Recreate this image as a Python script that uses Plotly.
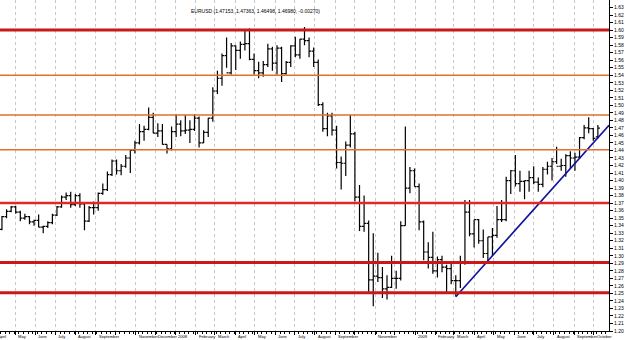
import pandas as pd
import plotly.graph_objects as go

# ---------------- data (weekly bars) ----------------
opens = [
    1.3350, 1.3520, 1.3590, 1.3650, 1.3580, 1.3500, 1.3520, 1.3450, 1.3470, 1.3380,
    1.3390, 1.3440, 1.3540, 1.3650, 1.3780, 1.3800, 1.3680, 1.3800, 1.3690, 1.3460,
    1.3640, 1.3640, 1.3830, 1.3880, 1.4080, 1.4260, 1.4130, 1.4190, 1.4300, 1.4400,
    1.4500, 1.4650, 1.4680, 1.4840, 1.4630, 1.4660, 1.4480, 1.4420, 1.4650,
    1.4750, 1.4660, 1.4670, 1.4680, 1.4830, 1.4500, 1.4640, 1.4830, 1.5190, 1.5360,
    1.5660, 1.5430, 1.5790, 1.5730, 1.5810, 1.5820, 1.5610, 1.5460, 1.5430, 1.5540,
    1.5750, 1.5560, 1.5760, 1.5420, 1.5570, 1.5790, 1.5670, 1.5880, 1.5860, 1.5720,
    1.5570, 1.5010, 1.4690, 1.4860, 1.4670, 1.4240, 1.4230, 1.4470, 1.4620, 1.3780,
    1.3390, 1.3430, 1.2680, 1.2730, 1.2710, 1.2560, 1.2580, 1.2700, 1.2700, 1.3400,
    1.3900, 1.4130,
    1.3920, 1.3450, 1.3050, 1.2980, 1.2800, 1.2950, 1.2850, 1.2830, 1.2670, 1.2670,
    1.2920, 1.3580, 1.3290, 1.3480, 1.3200, 1.3030, 1.3250, 1.3270, 1.3480, 1.3480,
    1.4000, 1.4130, 1.3960, 1.3990, 1.4000, 1.4040, 1.3980, 1.3950, 1.4150, 1.4190,
    1.4250, 1.4190, 1.4200, 1.4330, 1.4300, 1.4310, 1.4570, 1.4700, 1.4690, 1.4580,
]
highs = [
    1.3530, 1.3620, 1.3660, 1.3660, 1.3600, 1.3560, 1.3530, 1.3480, 1.3550, 1.3400,
    1.3460, 1.3560, 1.3660, 1.3800, 1.3840, 1.3850, 1.3820, 1.3830, 1.3700, 1.3660,
    1.3720, 1.3840, 1.3960, 1.4120, 1.4280, 1.4280, 1.4220, 1.4340, 1.4420, 1.4530,
    1.4750, 1.4730, 1.4970, 1.4900, 1.4760, 1.4750, 1.4480, 1.4720, 1.4880,
    1.4800, 1.4870, 1.4800, 1.4880, 1.4850, 1.4670, 1.4830, 1.5240, 1.5460, 1.5690,
    1.5900, 1.5830, 1.5800, 1.5850, 1.5990, 1.6020, 1.5690, 1.5580, 1.5590, 1.5820,
    1.5780, 1.5800, 1.5780, 1.5590, 1.5800, 1.5910, 1.5880, 1.6040, 1.5900, 1.5770,
    1.5610, 1.5040, 1.4900, 1.4900, 1.4730, 1.4320, 1.4520, 1.4870, 1.4650, 1.3940,
    1.3800, 1.3470, 1.3300, 1.3040, 1.2850, 1.2740, 1.3000, 1.2800, 1.3460, 1.4720,
    1.4180, 1.4160,
    1.3960, 1.3470, 1.3180, 1.3320, 1.2990, 1.3000, 1.2880, 1.2900, 1.2740, 1.3000,
    1.3740, 1.3740, 1.3480, 1.3490, 1.3350, 1.3250, 1.3370, 1.3660, 1.3740, 1.4050,
    1.4140, 1.4340, 1.4130, 1.4000, 1.4130, 1.4190, 1.4040, 1.4180, 1.4250, 1.4300,
    1.4450, 1.4290, 1.4350, 1.4390, 1.4370, 1.4580, 1.4740, 1.4840, 1.4700, 1.4740,
]
lows = [
    1.3340, 1.3500, 1.3580, 1.3560, 1.3460, 1.3480, 1.3420, 1.3400, 1.3380, 1.3300,
    1.3370, 1.3420, 1.3530, 1.3640, 1.3740, 1.3640, 1.3660, 1.3640, 1.3340, 1.3450,
    1.3550, 1.3600, 1.3810, 1.3860, 1.4060, 1.4080, 1.4070, 1.4170, 1.4100, 1.4360,
    1.4480, 1.4530, 1.4670, 1.4630, 1.4580, 1.4480, 1.4360, 1.4400, 1.4580,
    1.4590, 1.4620, 1.4500, 1.4660, 1.4440, 1.4500, 1.4580, 1.4780, 1.5150, 1.5260,
    1.5500, 1.5410, 1.5470, 1.5620, 1.5730, 1.5600, 1.5410, 1.5360, 1.5380, 1.5510,
    1.5460, 1.5410, 1.5310, 1.5410, 1.5510, 1.5640, 1.5620, 1.5800, 1.5640, 1.5510,
    1.4990, 1.4650, 1.4590, 1.4600, 1.4160, 1.3880, 1.4060, 1.4440, 1.3720, 1.3330,
    1.3320, 1.2500, 1.2330, 1.2650, 1.2440, 1.2420, 1.2570, 1.2560, 1.2670, 1.3400,
    1.3830, 1.3920,
    1.3340, 1.2940, 1.2830, 1.2760, 1.2710, 1.2780, 1.2510, 1.2620, 1.2460, 1.2570,
    1.2880, 1.3260, 1.3110, 1.3160, 1.2970, 1.2890, 1.3000, 1.3240, 1.3450, 1.3460,
    1.3820, 1.3920, 1.3850, 1.3750, 1.3850, 1.3950, 1.3850, 1.3910, 1.4080, 1.4000,
    1.4220, 1.4130, 1.4050, 1.4160, 1.4130, 1.4290, 1.4550, 1.4630, 1.4530, 1.4560,
]
closes = [
    1.3520, 1.3590, 1.3650, 1.3580, 1.3500, 1.3520, 1.3450, 1.3470, 1.3380, 1.3390,
    1.3440, 1.3540, 1.3650, 1.3780, 1.3800, 1.3680, 1.3800, 1.3690, 1.3460, 1.3640,
    1.3640, 1.3830, 1.3880, 1.4080, 1.4260, 1.4130, 1.4190, 1.4300, 1.4400, 1.4500,
    1.4650, 1.4680, 1.4840, 1.4630, 1.4660, 1.4480, 1.4420, 1.4650, 1.4750,
    1.4660, 1.4670, 1.4680, 1.4830, 1.4500, 1.4640, 1.4830, 1.5190, 1.5360, 1.5660,
    1.5430, 1.5790, 1.5730, 1.5810, 1.5820, 1.5610, 1.5460, 1.5430, 1.5540, 1.5750,
    1.5560, 1.5760, 1.5420, 1.5570, 1.5790, 1.5670, 1.5880, 1.5860, 1.5720, 1.5570,
    1.5010, 1.4690, 1.4860, 1.4670, 1.4240, 1.4230, 1.4470, 1.4620, 1.3780, 1.3390,
    1.3430, 1.2680, 1.2730, 1.2710, 1.2560, 1.2580, 1.2700, 1.2700, 1.3400, 1.3900,
    1.4130, 1.3920,
    1.3450, 1.3050, 1.2980, 1.2800, 1.2950, 1.2850, 1.2830, 1.2670, 1.2670, 1.2920,
    1.3580, 1.3290, 1.3480, 1.3200, 1.3030, 1.3250, 1.3270, 1.3480, 1.3480, 1.4000,
    1.4130, 1.3960, 1.3990, 1.4000, 1.4040, 1.3980, 1.3950, 1.4150, 1.4190, 1.4250,
    1.4190, 1.4200, 1.4330, 1.4300, 1.4310, 1.4570, 1.4700, 1.4690, 1.4560, 1.4698,
]
week_dates = pd.date_range("2007-04-11", periods=len(closes), freq="W-WED")

# support / resistance levels and trend line
levels = [1.600, 1.540, 1.487, 1.441, 1.370, 1.291, 1.251]
level_kinds = ["major", "minor", "minor", "minor", "mid", "major", "major"]
trend_dates = ["2009-03-04", "2009-10-24"]
trend_prices = [1.2455, 1.4735]

# axis labels
month_starts = [
    "2007-04-01", "2007-05-01", "2007-06-01", "2007-07-01", "2007-08-01", "2007-09-01",
    "2007-10-01", "2007-11-01", "2007-12-01", "2008-01-01", "2008-02-01", "2008-03-01",
    "2008-04-01", "2008-05-01", "2008-06-01", "2008-07-01", "2008-08-01", "2008-09-01",
    "2008-10-01", "2008-11-01", "2008-12-01", "2009-01-01", "2009-02-01", "2009-03-01",
    "2009-04-01", "2009-05-01", "2009-06-01", "2009-07-01", "2009-08-01", "2009-09-01",
    "2009-10-01",
]
month_labels = [
    "April", "May", "June", "July", "August", "September", "", "November", "December",
    "2008", "February", "March", "April", "May", "June", "July", "August", "September",
    "", "November", "", "2009", "February", "March", "April", "May", "June", "July",
    "August", "September", "October",
]
price_ticks = [round(1.20 + 0.01 * i, 2) for i in range(44)]
title_text = "EURUSD (1.47153, 1.47363, 1.46498, 1.46980, -0.00270)"

# ---------------- figure ----------------
FONT = "Liberation Sans"
X0, X1 = pd.Timestamp("2007-04-08"), pd.Timestamp("2009-10-24")
fig = go.Figure()
fig.add_trace(go.Ohlc(
    x=week_dates, open=opens, high=highs, low=lows, close=closes,
    increasing=dict(line=dict(color="black", width=1.2)),
    decreasing=dict(line=dict(color="black", width=1.2)),
    tickwidth=0.45, showlegend=False, hoverinfo="skip",
))
fig.add_trace(go.Scatter(
    x=trend_dates, y=trend_prices, mode="lines",
    line=dict(color="#1010a0", width=1.6), showlegend=False, hoverinfo="skip",
))

style = {
    "major": dict(color="#c81818", width=3),
    "mid": dict(color="#e02828", width=2.5),
    "minor": dict(color="#e0702c", width=1.5),
}
for lv, kind in zip(levels, level_kinds):
    fig.add_shape(type="line", xref="paper", x0=0, x1=1, yref="y", y0=lv, y1=lv,
                  line=style[kind], layer="above")

span = (X1 - X0).total_seconds()
for d, t in zip(month_starts, month_labels):
    if t:
        xp = (pd.Timestamp(d) - X0).total_seconds() / span
        fig.add_annotation(x=xp, xref="paper", y=0, yref="paper", yanchor="top", xanchor="left",
                           yshift=-1, xshift=1, text=t, showarrow=False,
                           font=dict(family=FONT, size=4.1, color="black"))

fig.add_annotation(x=255 / 609, xref="paper", y=1 - 11 / 331, yref="paper",
                   text=title_text, showarrow=False, xanchor="center", yanchor="middle",
                   font=dict(family=FONT, size=5, color="black"))

fig.update_layout(
    width=625, height=340,
    margin=dict(l=0, r=16, t=0, b=9),
    paper_bgcolor="white", plot_bgcolor="white",
    font=dict(family=FONT, size=5, color="black"),
    xaxis=dict(
        type="date", range=[X0, X1],
        rangeslider=dict(visible=False),
        tickvals=month_starts, showticklabels=False,
        ticks="outside", ticklen=3, tickcolor="black",
        showgrid=True, gridcolor="#c8c8c8", griddash="dot", gridwidth=1,
        showline=True, linecolor="black", linewidth=1, zeroline=False,
        minor=dict(ticks="outside", ticklen=2, tickcolor="black",
                   dtick=7 * 86400000, tick0="2007-04-09", showgrid=False),
    ),
    yaxis=dict(
        side="right", range=[1.20, 1.64],
        tickvals=price_ticks, ticktext=[f"{v:.2f}" for v in price_ticks],
        ticks="outside", ticklen=3, tickcolor="black",
        showgrid=False, zeroline=False,
        showline=True, linecolor="black", linewidth=1,
        tickfont=dict(family=FONT, size=5, color="black"),
    ),
)

fig.write_html("out.html")
